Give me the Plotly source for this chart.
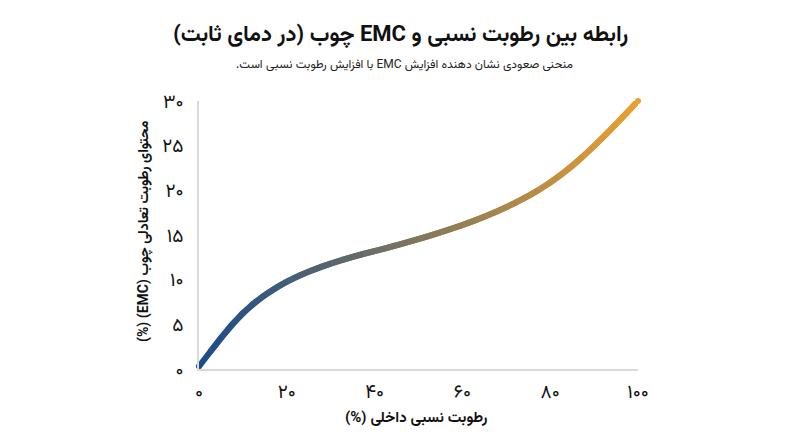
import plotly.graph_objects as go

# Relative humidity (%) and EMC (%)
rh = [0, 2.5, 5, 7.5, 10, 12.5, 15, 17.5, 20, 22.5, 25, 27.5, 30, 32.5, 35, 37.5,
      40, 42.5, 45, 47.5, 50, 52.5, 55, 57.5, 60, 62.5, 65, 67.5, 70, 72.5, 75,
      77.5, 80, 82.5, 85, 87.5, 90, 92.5, 95, 97.5, 100]
emc = [0.3, 1.9, 3.5, 5.0, 6.3, 7.4, 8.3, 9.1, 9.8, 10.4, 10.9, 11.4, 11.8, 12.2,
       12.55, 12.9, 13.2, 13.5, 13.85, 14.2, 14.55, 14.9, 15.3, 15.7, 16.1, 16.55,
       17.05, 17.55, 18.1, 18.7, 19.35, 20.05, 20.85, 21.75, 22.7, 23.8, 24.95,
       26.15, 27.4, 28.7, 30.0]

x_tickvals = [0, 20, 40, 60, 80, 100]
x_ticktext = ["۰", "۲۰", "۴۰", "۶۰", "۸۰", "۱۰۰"]
y_tickvals = [0, 5, 10, 15, 20, 25, 30]
y_ticktext = ["۰", "۵", "۱۰", "۱۵", "۲۰", "۲۵", "۳۰"]

title_text = "رابطه بین رطوبت نسبی و EMC چوب (در دمای ثابت)"
subtitle_text = "منحنی صعودی نشان دهنده افزایش EMC با افزایش رطوبت نسبی است."
x_title = "رطوبت نسبی داخلی (%)"
y_title = "محتوای رطوبت تعادلی چوب (EMC) (%)"

c_start = (26, 76, 138)
c_end = (234, 160, 48)


def mix(t):
    r, g, b = (round(a + (b_ - a) * t) for a, b_ in zip(c_start, c_end))
    return f"rgb({r},{g},{b})"


def rtl(s):
    return "\u202b" + s + "\u202c"


FONT = "Vazirmatn, DejaVu Sans, sans-serif"
OFF = 8  # page body margin shifts the figure by this many pixels
W, H = 800, 447
L, T = 199 - OFF, 101 - OFF
R = W - (638 - OFF)
B = H - (369 - OFF)
PW, PH = W - L - R, H - T - B


def px_x(p):
    return (p - OFF - L) / PW


def px_y(p):
    return (H - B - (p - OFF)) / PH


fig = go.Figure()

n = len(rh)
xmin, xmax = rh[0], rh[-1]
for i in range(n - 1):
    j = min(i + 3, n)
    tmid = ((rh[i] + rh[i + 1]) / 2 - xmin) / (xmax - xmin)
    fig.add_trace(go.Scatter(
        x=rh[i:j], y=emc[i:j], mode="lines",
        line=dict(color=mix(tmid), width=6),
        hoverinfo="skip", showlegend=False, cliponaxis=False))

# round caps at both ends
fig.add_trace(go.Scatter(
    x=[rh[0], rh[-1]], y=[emc[0], emc[-1]], mode="markers",
    marker=dict(color=[mix(0), mix(1)], size=6, line=dict(width=0)),
    hoverinfo="skip", showlegend=False, cliponaxis=False))

fig.update_layout(
    width=W, height=H,
    paper_bgcolor="white", plot_bgcolor="white",
    margin=dict(l=L, r=R, t=T, b=B, autoexpand=False),
    font=dict(family=FONT, color="#111111"),
    showlegend=False,
)

ann = [
    (rtl("<b>" + title_text + "</b>"), 400, 35, 22, "#111111", 0),
    (rtl(subtitle_text), 404, 65, 12, "#222222", 0),
    (rtl("<b>" + x_title + "</b>"), 416, 418, 15, "#111111", 0),
    (rtl("<b>" + y_title + "</b>"), 145, 231, 14, "#111111", -90),
]
for text, xp, yp, size, color, ang in ann:
    fig.add_annotation(
        text=text, xref="paper", yref="paper", x=px_x(xp), y=px_y(yp),
        xanchor="center", yanchor="middle", showarrow=False, textangle=ang,
        font=dict(size=size, color=color, family=FONT))

fig.update_xaxes(
    range=[0, 100], tickvals=x_tickvals, ticktext=x_ticktext,
    showgrid=False, zeroline=False, showline=True, linecolor="#d9d9d9",
    linewidth=1.5, ticks="", tickfont=dict(size=19, color="#111111"),
    automargin=False, ticklabelstandoff=4,
)
fig.update_yaxes(
    range=[0, 30], tickvals=y_tickvals, ticktext=y_ticktext,
    showgrid=False, zeroline=False, showline=True, linecolor="#d9d9d9",
    linewidth=1.5, ticks="", tickfont=dict(size=19, color="#111111"),
    automargin=False, ticklabelstandoff=10,
)

fig.write_html("out.html")
